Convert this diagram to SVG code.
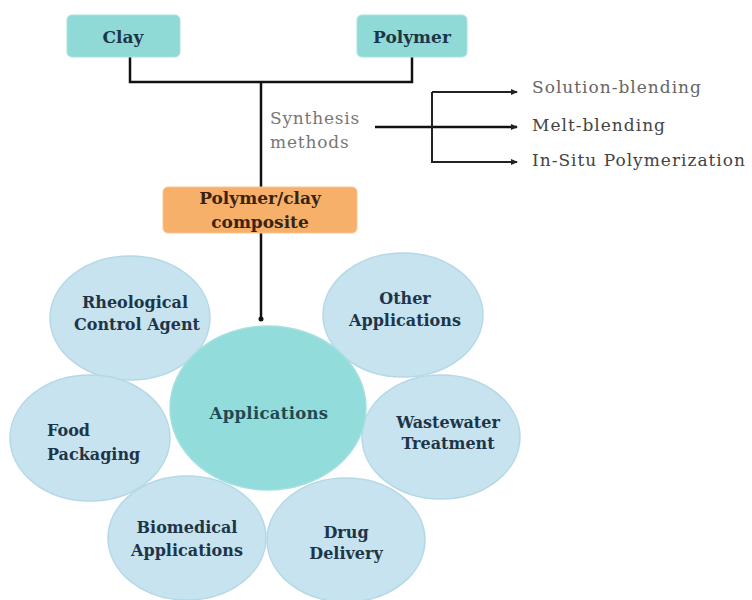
<svg xmlns="http://www.w3.org/2000/svg" width="752" height="600" viewBox="0 0 752 600">
<style>
text{font-family:"DejaVu Serif","Liberation Serif",serif;fill:#1e3548;font-size:16px;text-anchor:middle}
.b{font-weight:bold}
.hd{font-size:17px}
.box{fill:#8fdad6;stroke:#a8e2df;stroke-width:1}
.org{fill:#f6b06a;stroke:#f9c590;stroke-width:1}
.c{fill:#c6e3ef;stroke:#b5d8e6;stroke-width:1.5}
.cc{fill:#93dcdc;stroke:#a4e0e0;stroke-width:1.5}
.ln{fill:none;stroke:#111;stroke-width:2.5}
.lnt{fill:none;stroke:#222;stroke-width:2}
.lab{fill:#777;font-size:17px;letter-spacing:0.8px;text-anchor:start}
.m{text-anchor:start;fill:#444;font-size:17px;letter-spacing:1px}
</style>
<defs>
<marker id="ah" markerWidth="8" markerHeight="8" refX="6" refY="4" orient="auto" markerUnits="userSpaceOnUse">
<path d="M0,1 L7,4 L0,7 z" fill="#222"/>
</marker>
</defs>
<g id="connectors">
<path class="ln" d="M130,57 V82 H412 V57"/>
<path class="ln" d="M261,82 V188"/>
<path class="ln" d="M261,233 V318"/>
<circle cx="261" cy="319" r="2.5" fill="#111"/>
<path class="ln" d="M375,127 H517" marker-end="url(#ah)"/>
<path class="lnt" d="M432,92 V162 H517" marker-end="url(#ah)"/>
<path class="lnt" d="M432,92 H517" marker-end="url(#ah)"/>
</g>
<g id="clay"><rect class="box" x="67" y="15" width="113" height="42" rx="5"/><text x="123" y="43" class="b hd">Clay</text></g>
<g id="polymer"><rect class="box" x="357" y="15" width="110" height="42" rx="5"/><text x="412" y="43" class="b hd">Polymer</text></g>
<g id="synthesis"><text class="lab" x="270" y="124">Synthesis</text><text class="lab" x="270" y="148">methods</text></g>
<g id="solution"><text class="m" x="532" y="93" style="fill:#666">Solution-blending</text></g>
<g id="melt"><text class="m" x="532" y="131">Melt-blending</text></g>
<g id="insitu"><text class="m" x="532" y="166">In-Situ Polymerization</text></g>
<g id="composite"><rect class="org" x="163" y="187" width="194" height="46" rx="5"/><text x="260" y="204" class="b hd" style="fill:#3a2410">Polymer/clay</text><text x="260" y="228" class="b hd" style="fill:#3a2410">composite</text></g>
<g id="rheological"><ellipse class="c" cx="130" cy="318" rx="80" ry="62"/><text x="135" y="308" class="b">Rheological</text><text x="137" y="330" class="b">Control Agent</text></g>
<g id="other"><ellipse class="c" cx="403" cy="315" rx="80" ry="62"/><text x="405" y="304" class="b">Other</text><text x="405" y="326" class="b">Applications</text></g>
<g id="food"><ellipse class="c" cx="90" cy="438" rx="80" ry="63"/><text x="47" y="436" class="b" style="text-anchor:start">Food</text><text x="47" y="460" class="b" style="text-anchor:start">Packaging</text></g>
<g id="wastewater"><ellipse class="c" cx="441" cy="437" rx="79" ry="62"/><text x="448" y="428" class="b">Wastewater</text><text x="448" y="449" class="b">Treatment</text></g>
<g id="biomedical"><ellipse class="c" cx="187" cy="538" rx="79" ry="62"/><text x="187" y="533" class="b">Biomedical</text><text x="187" y="556" class="b">Applications</text></g>
<g id="drug"><ellipse class="c" cx="346" cy="540" rx="79" ry="62"/><text x="346" y="538" class="b">Drug</text><text x="346" y="559" class="b">Delivery</text></g>
<g id="applications"><ellipse class="cc" cx="268" cy="408" rx="98" ry="82"/><text x="269" y="419" class="b" style="fill:#1e4a52;font-size:16.5px;letter-spacing:0.3px">Applications</text></g>
</svg>
